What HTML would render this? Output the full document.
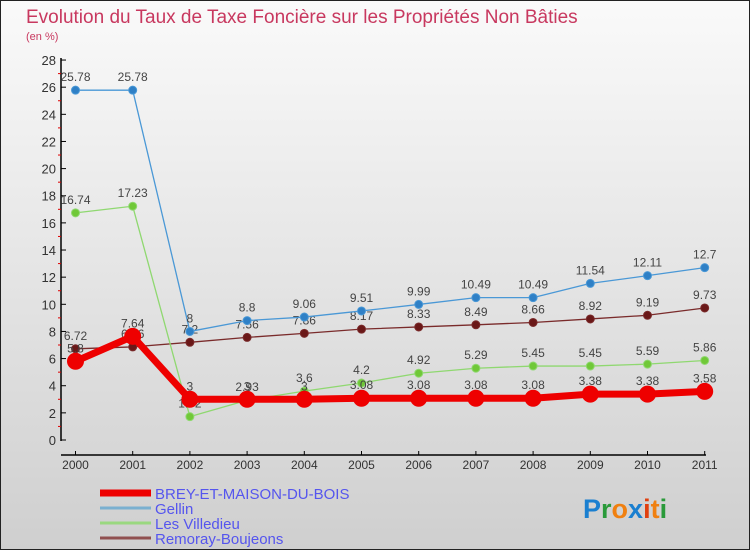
<!DOCTYPE html>
<html><head><meta charset="utf-8"><style>
body{margin:0;width:750px;height:550px;overflow:hidden}
svg{display:block;font-family:"Liberation Sans",sans-serif}
</style></head><body>
<svg width="750" height="550">
<defs><linearGradient id="bg" x1="0" y1="0" x2="0" y2="1"><stop offset="0" stop-color="#fafafa"/><stop offset="1" stop-color="#cfcfcf"/></linearGradient></defs>
<rect x="0.5" y="0.5" width="749" height="549" fill="url(#bg)" stroke="#222"/>
<text x="26" y="23" font-size="19" fill="#c8385f">Evolution du Taux de Taxe Foncière sur les Propriétés Non Bâties</text>
<text x="26" y="40" font-size="11" fill="#c8385f">(en %)</text>
<g id="axes"></g><g id="series"></g><g id="legend"></g>
<text x="583" y="518" font-size="27" font-weight="bold"><tspan fill="#1a7fd0">P</tspan><tspan fill="#2a9a3a">r</tspan><tspan fill="#f08010">o</tspan><tspan fill="#1a7fd0">x</tspan><tspan fill="#e04010">i</tspan><tspan fill="#f08010">t</tspan><tspan fill="#2a9a3a">i</tspan></text>
</svg>
<script>
const years=["2000","2001","2002","2003","2004","2005","2006","2007","2008","2009","2010","2011"];
const yTicks=[0,2,4,6,8,10,12,14,16,18,20,22,24,26,28];
const brey=[5.8,7.64,3,3,3,3.08,3.08,3.08,3.08,3.38,3.38,3.58];
const gellin=[25.78,25.78,8,8.8,9.06,9.51,9.99,10.49,10.49,11.54,12.11,12.7];
const villedieu=[16.74,17.23,1.72,2.93,3.6,4.2,4.92,5.29,5.45,5.45,5.59,5.86];
const remoray=[6.72,6.86,7.2,7.56,7.86,8.17,8.33,8.49,8.66,8.92,9.19,9.73];
const seriesNames=["BREY-ET-MAISON-DU-BOIS","Gellin","Les Villedieu","Remoray-Boujeons"];
const NS="http://www.w3.org/2000/svg";
const X=i=>75.5+i*57.2, Y=v=>440-v*13.57;
function mk(t,a,p){const e=document.createElementNS(NS,t);for(const k in a)e.setAttribute(k,a[k]);p.appendChild(e);return e;}
const ax=document.getElementById('axes');
let l=mk('line',{x1:61,y1:58,x2:61,y2:441,stroke:'#000','stroke-width':1.5},ax);


l=mk('line',{x1:61,y1:455,x2:706,y2:455,stroke:'#000','stroke-width':1.5},ax);


yTicks.forEach(v=>{
 mk('line',{x1:61,y1:Y(v),x2:66,y2:Y(v),stroke:'#000'},ax);
 if(v<28) mk('line',{x1:58,y1:Y(v+1),x2:61,y2:Y(v+1),stroke:'#d00'},ax);
 const t=mk('text',{x:56,y:Y(v)+5,'font-size':13,'text-anchor':'end',fill:'#333'},ax);t.textContent=v;
 
 
});
years.forEach((y,i)=>{
 mk('line',{x1:X(i),y1:451,x2:X(i),y2:455,stroke:'#000'},ax);
 const t=mk('text',{x:X(i),y:469,'font-size':12,'text-anchor':'middle',fill:'#333'},ax);t.textContent=y;
 
 
});
const sg=document.getElementById('series');
function draw(data,color,w,r,name,dot){
 const g=mk('g',{},sg);
 
 
 mk('polyline',{points:data.map((v,i)=>X(i)+','+Y(v)).join(' '),fill:'none',stroke:color,'stroke-width':w,'stroke-linejoin':'round'},g);
 data.forEach((v,i)=>{
  const c=mk('circle',{cx:X(i),cy:Y(v),r:r,fill:dot,stroke:color,'stroke-width':1},g);
  
  
  const t=mk('text',{x:X(i),y:Y(v)-9,'font-size':12,'text-anchor':'middle',fill:'#444'},g);t.textContent=v;
  
  
 });
}
draw(remoray,'#7a2b2b',1.3,4,'remoray-series','#6a1818');
draw(villedieu,'#8fd870',1.3,4,'villedieu-series','#70c838');
draw(gellin,'#4a98d6',1.3,4,'gellin-series','#2f80c6');
draw(brey,'#ee0000',7,8,'brey-series','#ee0000');
const lg=document.getElementById('legend');
const lc=['#ee0000','#7ab0d0','#9ad880','#905050'],lw=[7,3,3,3];
seriesNames.forEach((n,i)=>{
 const y=493+i*15;
 const g=mk('g',{},lg);
 
 
 mk('line',{x1:100,y1:y,x2:151,y2:y,stroke:lc[i],'stroke-width':lw[i]},g);
 const t=mk('text',{x:155,y:y+6,'font-size':15,fill:'#5555ee'},g);t.textContent=n;
});
</script>
</body></html>
